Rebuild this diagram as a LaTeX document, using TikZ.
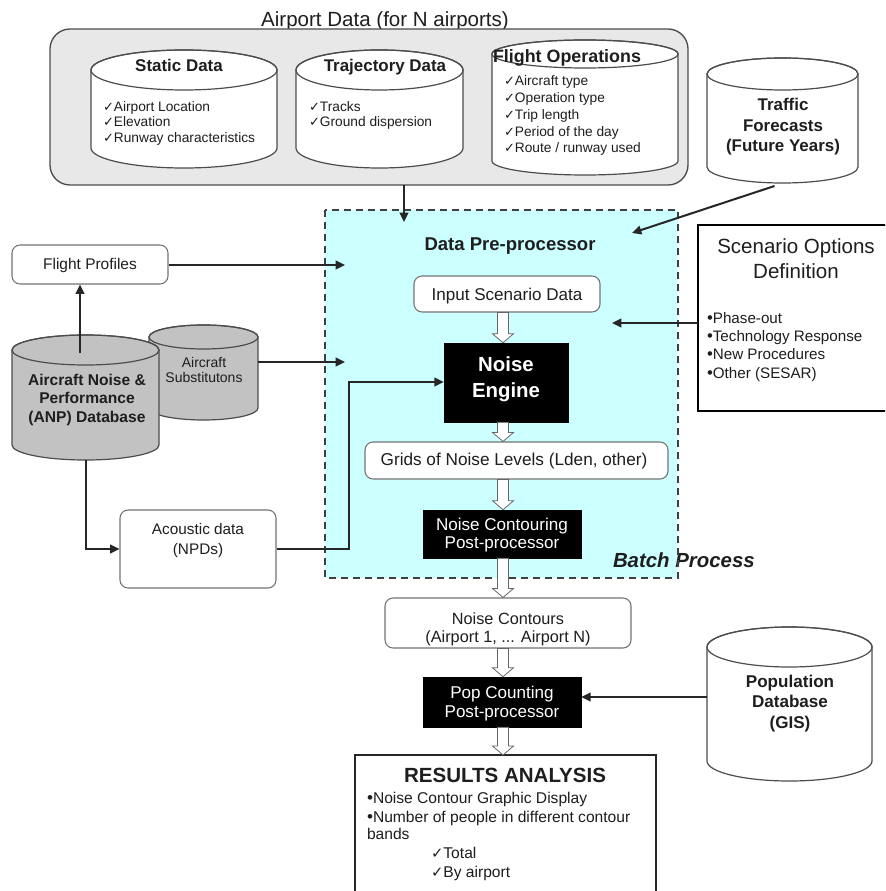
\documentclass[tikz,border=0pt]{standalone}
\usepackage{fontspec}
\setmainfont{Liberation Sans}
\newfontfamily\symfont{DejaVu Sans}
\usetikzlibrary{arrows.meta,fit,calc}

% font size helper (size in pt)
\newcommand\fs[1]{\fontsize{#1pt}{#1pt}\selectfont}
\newcommand\chk{{\symfont\scalebox{0.95}{✓}}}
\newcommand\bul{{\scalebox{1.1}{•}}}

\definecolor{procfill}{RGB}{204,255,255}
\definecolor{inkc}{RGB}{30,30,30}

\tikzset{
  txt/.style={inner sep=0pt, outer sep=0pt, text=inkc, anchor=base},
  arr/.style={draw=black!85, line width=1.5pt, -{Triangle[length=7pt,width=6.5pt]}},
  rbox/.style={draw=black!55, line width=0.8pt, rounded corners=6pt, fill=white, inner sep=0pt},
  blackbox/.style={fill=black, draw=black, inner sep=0pt},
  boxfit/.style={inner sep=0pt, outer sep=0pt},
  drumline/.style={draw=black!70, line width=0.9pt},
  blockarr/.style={draw=black!60, fill=white, line width=0.6pt},
}

% cylinder: left, right, top, bottom, ellipse y-radius, fill colour
\newcommand\drum[6]{%
  \pgfmathsetmacro\drumrx{(#2-#1)/2}%
  \pgfmathsetmacro\drumcx{(#1+#2)/2}%
  \filldraw[drumline, fill=#6] (#1,#3+#5) -- (#1,#4-#5)
     arc[start angle=180, end angle=0, x radius=\drumrx, y radius=#5]
     -- (#2,#3+#5)
     arc[start angle=0, end angle=-180, x radius=\drumrx, y radius=#5] -- cycle;
  \draw[drumline] (\drumcx,#3+#5) ellipse[x radius=\drumrx, y radius=#5];
}

% hollow block arrow pointing down, from #1 to #2
\newcommand\blockarrow[2]{%
  \draw[blockarr] ($(#1)+(-5.5,0)$) -- ($(#2)+(-5.5,-9)$) -- ($(#2)+(-10.5,-9)$)
    -- (#2) -- ($(#2)+(10.5,-9)$) -- ($(#2)+(5.5,-9)$) -- ($(#1)+(5.5,0)$) -- cycle;
}

\begin{document}
\begin{tikzpicture}[x=0.75pt, y=-0.75pt]
\useasboundingbox (0,0) rectangle (885,891);
\clip (0,0) rectangle (885,891);
\fill[white] (0,0) rectangle (885,891);

% ---------------- airport data group ----------------
\node[txt] (airport-title) at (385,27) {\fs{15.4}Airport Data (for N airports)};
\node[boxfit, fit={(50,29) (688,185)}, draw=black!70, fill=black!9,
      rounded corners=15pt, line width=1pt] (airport) {};

\drum{91}{277}{50}{168}{20}{white}
\node[boxfit, fit={(91,50) (277,168)}] (static) {};
\node[txt] (static-t) at (179,72) {\fs{12.7}\bfseries Static Data};
\node[txt, anchor=base west] (static-1) at (103,112) {\fs{10.3}\chk Airport Location};
\node[txt, anchor=base west] (static-2) at (103,127) {\fs{10.3}\chk Elevation};
\node[txt, anchor=base west] (static-3) at (103,143) {\fs{10.3}\chk Runway characteristics};

\drum{296}{463}{50}{168}{20}{white}
\node[boxfit, fit={(296,50) (463,168)}] (traj) {};
\node[txt] (traj-t) at (385,72) {\fs{12.7}\bfseries Trajectory Data};
\node[txt, anchor=base west] (traj-1) at (309,112) {\fs{10.3}\chk Tracks};
\node[txt, anchor=base west] (traj-2) at (309,127) {\fs{10.3}\chk Ground dispersion};

\drum{492}{678}{40}{175}{14}{white}
\node[boxfit, fit={(492,40) (678,175)}] (flops) {};
\node[txt] (flops-t) at (567,63) {\fs{13.4}\bfseries Flight Operations};
\node[txt, anchor=base west] (flops-1) at (504,86) {\fs{10.3}\chk Aircraft type};
\node[txt, anchor=base west] (flops-2) at (504,103) {\fs{10.3}\chk Operation type};
\node[txt, anchor=base west] (flops-3) at (504,120) {\fs{10.3}\chk Trip length};
\node[txt, anchor=base west] (flops-4) at (504,137) {\fs{10.3}\chk Period of the day};
\node[txt, anchor=base west] (flops-5) at (504,153) {\fs{10.3}\chk Route / runway used};

% ---------------- traffic forecasts ----------------
\drum{707}{858}{58}{183}{16}{white}
\node[boxfit, fit={(707,58) (858,183)}] (traffic) {};
\node[txt] (traffic-1) at (783,111) {\fs{12.7}\bfseries Traffic};
\node[txt] (traffic-2) at (783,132) {\fs{12.7}\bfseries Forecasts};
\node[txt] (traffic-3) at (783,152) {\fs{12.7}\bfseries (Future Years)};

% ---------------- batch process area ----------------
\fill[procfill] (325,210) rectangle (678,578);
\node[boxfit, fit={(325,210) (678,578)}] (batch) {};
\node[txt, anchor=base west] (batch-t) at (613,567) {\fs{15.3}\bfseries\itshape Batch Process};
\draw[black!75, line width=1.2pt, dash pattern=on 5.5pt off 3.5pt] (325,210) rectangle (678,578);

\node[txt] (prep-t) at (510,250) {\fs{13.9}\bfseries Data Pre-processor};

\node[rbox, fit={(414,276) (600,312)}] (input) {};
\node[txt] (input-t) at (507,300) {\fs{12.8}Input Scenario Data};

\node[blackbox, fit={(444,343) (568,422)}] (engine) {};
\node[txt, text=white] (engine-1) at (506,371) {\fs{15.3}\bfseries Noise};
\node[txt, text=white] (engine-2) at (506,397) {\fs{15.3}\bfseries Engine};

\node[rbox, fit={(365,442) (668,479)}] (grids) {};
\node[txt] (grids-t) at (514,465) {\fs{12.9}Grids of Noise Levels (Lden, other)};

\node[blackbox, fit={(423,510) (581,558)}] (ncont) {};
\node[txt, text=white] (ncont-1) at (502,530) {\fs{12.8}Noise Contouring};
\node[txt, text=white] (ncont-2) at (502,548) {\fs{12.8}Post-processor};

% ---------------- downstream chain ----------------
\node[rbox, fit={(385,598) (631,648)}] (contours) {};
\node[txt] (contours-1) at (508,624) {\fs{12.2}Noise Contours};
\node[txt] (contours-2) at (508,642) {\fs{12.2}(Airport 1, ... Airport N)};

\node[blackbox, fit={(423,677) (581,727)}] (popc) {};
\node[txt, text=white] (popc-1) at (502,698) {\fs{12.8}Pop Counting};
\node[txt, text=white] (popc-2) at (502,717) {\fs{12.8}Post-processor};

\node[boxfit, fit={(355,755) (656,900)}, draw=black!85, line width=1.1pt, fill=white] (results) {};
\node[txt] (results-t) at (505,782) {\fs{15.4}\bfseries RESULTS ANALYSIS};
\node[txt, anchor=base west] (results-1) at (367,803) {\fs{11.7}\bul Noise Contour Graphic Display};
\node[txt, anchor=base west] (results-2) at (367,822) {\fs{11.7}\bul Number of people in different contour};
\node[txt, anchor=base west] (results-3) at (367,839) {\fs{11.7}bands};
\node[txt, anchor=base west] (results-4) at (431,858) {\fs{11.7}\chk Total};
\node[txt, anchor=base west] (results-5) at (431,877) {\fs{11.7}\chk By airport};

% ---------------- population database ----------------
\drum{707}{872}{627}{781}{20}{white}
\node[boxfit, fit={(707,627) (872,781)}] (pop) {};
\node[txt] (pop-1) at (790,687) {\fs{12.8}\bfseries Population};
\node[txt] (pop-2) at (790,707) {\fs{12.8}\bfseries Database};
\node[txt] (pop-3) at (790,728) {\fs{12.8}\bfseries (GIS)};

% ---------------- scenario options ----------------
\node[boxfit, fit={(698,225) (892,411)}, draw=black, line width=2.2pt, fill=white] (scen) {};
\node[txt] (scen-1) at (796,253) {\fs{15.4}Scenario Options};
\node[txt] (scen-2) at (796,278) {\fs{15.4}Definition};
\node[txt, anchor=base west] (scen-3) at (707,323) {\fs{11.4}\bul Phase-out};
\node[txt, anchor=base west] (scen-4) at (707,341) {\fs{11.4}\bul Technology Response};
\node[txt, anchor=base west] (scen-5) at (707,359) {\fs{11.4}\bul New Procedures};
\node[txt, anchor=base west] (scen-6) at (707,378) {\fs{11.4}\bul Other (SESAR)};

% ---------------- left-hand inputs ----------------
\node[rbox, fit={(12,245) (168,284)}] (fprof) {};
\node[txt] (fprof-t) at (90,269) {\fs{11.6}Flight Profiles};

\drum{149}{258}{325}{420}{12}{black!24}
\node[boxfit, fit={(149,325) (258,420)}] (subst) {};
\node[txt] (subst-1) at (204,367) {\fs{10.5}Aircraft};
\node[txt] (subst-2) at (204,382) {\fs{10.5}Substitutons};

\drum{12}{159}{335}{460}{15}{black!24}
\node[boxfit, fit={(12,335) (159,460)}] (anp) {};
\node[txt] (anp-1) at (87,385) {\fs{11.7}\bfseries Aircraft Noise \&};
\node[txt] (anp-2) at (87,403) {\fs{11.7}\bfseries Performance};
\node[txt] (anp-3) at (87,422) {\fs{11.7}\bfseries (ANP) Database};

\node[rbox, fit={(120,510) (276,588)}] (acoustic) {};
\node[txt] (acoustic-1) at (198,534) {\fs{11.5}Acoustic data};
\node[txt] (acoustic-2) at (198,554) {\fs{11.5}(NPDs)};

% ---------------- connectors ----------------
\coordinate (pp-top-in) at (404,222);
\coordinate (pp-tr-in) at (632,233);
\coordinate (pp-fp-in) at (345,265);
\coordinate (pp-sub-in) at (345,362);
\coordinate (pp-sc-in) at (612,323);
\coordinate (anp-top) at (80,353);
\coordinate (npd-bend) at (349,382);
\coordinate (pop-line) at (0,697);
\coordinate (chain) at (503,0);

\draw[arr] (airport.south -| pp-top-in) -- (pp-top-in);
\draw[arr] ([shift={(-8,3)}]traffic.south) -- (pp-tr-in);
\draw[arr] (fprof.east |- pp-fp-in) -- (pp-fp-in);
\draw[arr] (anp-top) -- (fprof.south -| anp-top);
\draw[arr] (subst.east |- pp-sub-in) -- (pp-sub-in);
\draw[arr] (anp.south) |- (acoustic.west);
\draw[arr] (acoustic.east) -| (npd-bend) -- (engine.west |- npd-bend);
\draw[arr] (scen.west |- pp-sc-in) -- (pp-sc-in);
\draw[arr] (pop.west |- pop-line) -- (popc.east |- pop-line);

\blockarrow{input.south -| chain}{engine.north -| chain}
\blockarrow{engine.south -| chain}{grids.north -| chain}
\blockarrow{grids.south -| chain}{ncont.north -| chain}
\blockarrow{ncont.south -| chain}{contours.north -| chain}
\blockarrow{contours.south -| chain}{popc.north -| chain}
\blockarrow{popc.south -| chain}{results.north -| chain}
\end{tikzpicture}
\end{document}
